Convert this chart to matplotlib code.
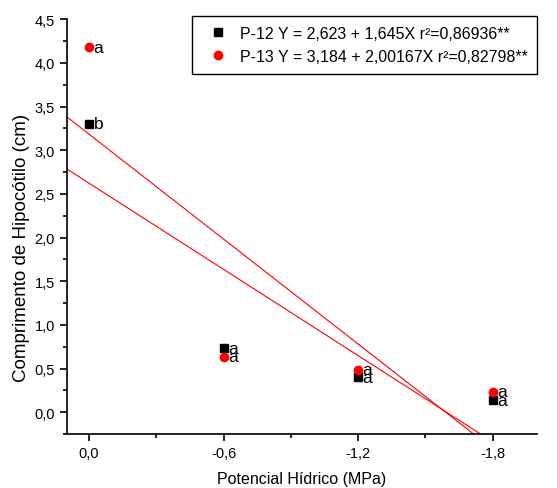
import matplotlib
matplotlib.use("Agg")
import matplotlib.pyplot as plt
import numpy as np
from matplotlib.ticker import MultipleLocator, FuncFormatter

plt.rcParams['font.family'] = ['Liberation Sans', 'DejaVu Sans']

# Data
potential = [0.0, -0.6, -1.2, -1.8]
p12 = [3.305, 0.733, 0.40, 0.137]
p13 = [4.18, 0.637, 0.484, 0.236]
p12_letters = ['b', 'a', 'a', 'a']
p13_letters = ['a', 'a', 'a', 'a']
p12_fit = (2.623, 1.645)
p13_fit = (3.184, 2.00167)
p12_label = "P-12 Y = 2,623 + 1,645X r²=0,86936**"
p13_label = "P-13 Y = 3,184 + 2,00167X r²=0,82798**"

fig = plt.figure(figsize=(5.57, 4.89), dpi=100)
ax = fig.add_axes([0.1197, 0.1104, 0.845, 0.848])

xs = np.linspace(0.1, -2.0, 50)
ax.plot(xs, p12_fit[0] + p12_fit[1] * xs, color='red', lw=0.8, zorder=1)
ax.plot(xs, p13_fit[0] + p13_fit[1] * xs, color='red', lw=0.8, zorder=1)

ax.plot(potential, p12, 's', color='black', markersize=5.2, linestyle='none', label=p12_label, zorder=3)
ax.plot(potential, p13, 'o', color='red', markersize=6, linestyle='none', label=p13_label, zorder=3)

for x, y, t in zip(potential, p12, p12_letters):
    ax.annotate(t, (x, y), xytext=(3.3, 0), textcoords='offset points', va='center', ha='left', fontsize=12.5)
for x, y, t in zip(potential, p13, p13_letters):
    ax.annotate(t, (x, y), xytext=(3.3, 0), textcoords='offset points', va='center', ha='left', fontsize=12.5)

ax.set_xlim(0.1, -2.0)
ax.set_ylim(-0.25, 4.5)
ax.xaxis.set_major_locator(MultipleLocator(0.6))
ax.xaxis.set_minor_locator(MultipleLocator(0.3))
ax.yaxis.set_major_locator(MultipleLocator(0.5))
ax.yaxis.set_minor_locator(MultipleLocator(0.25))
fmt = FuncFormatter(lambda v, p: f"{v:.1f}".replace('.', ',').replace('-0,0', '0,0'))
ax.xaxis.set_major_formatter(fmt)
ax.yaxis.set_major_formatter(fmt)

for s in ['top', 'right']:
    ax.spines[s].set_visible(False)
for s in ['left', 'bottom']:
    ax.spines[s].set_linewidth(1.2)
ax.tick_params(which='major', direction='out', length=5, width=1.2, labelsize=10.5)
ax.tick_params(which='minor', direction='out', length=3, width=1.2)

ax.set_xlabel("Potencial Hídrico (MPa)", fontsize=11.5, labelpad=8)
ax.set_ylabel("Comprimento de Hipocótilo (cm)", fontsize=13.5, labelpad=4)
ax.yaxis.set_label_coords(-0.077, 0.45)

leg = ax.legend(loc='upper right', fontsize=11.5, frameon=True, fancybox=False,
                edgecolor='black', framealpha=1, handletextpad=0.3, borderpad=0.6,
                labelspacing=0.5, bbox_to_anchor=(1.0, 1.007), borderaxespad=0.0,
                handlelength=2.1)
leg.get_frame().set_linewidth(1.0)

fig.savefig("out.png", dpi=100)
